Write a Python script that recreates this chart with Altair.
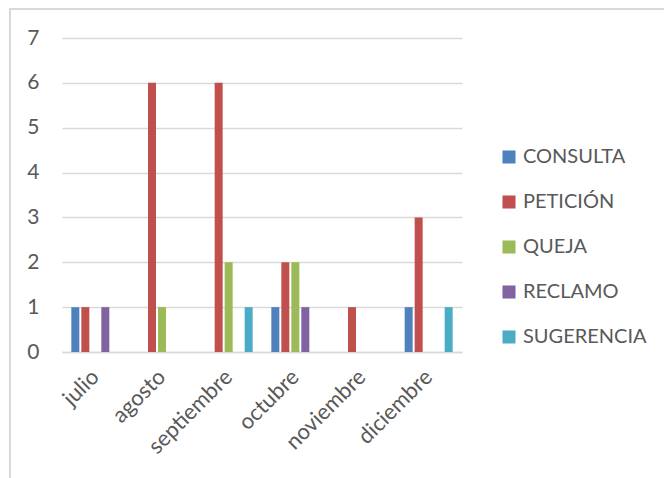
import altair as alt
import pandas as pd

meses = ["julio", "agosto", "septiembre", "octubre", "noviembre", "diciembre"]
tipos = ["CONSULTA", "PETICIÓN", "QUEJA", "RECLAMO", "SUGERENCIA"]
colores = ["#4F81BD", "#C0504D", "#9BBB59", "#8064A2", "#4BACC6"]

consulta = [1, 0, 0, 1, 0, 1]
peticion = [1, 6, 6, 2, 1, 3]
queja = [0, 1, 2, 2, 0, 0]
reclamo = [1, 0, 0, 1, 0, 0]
sugerencia = [0, 0, 1, 0, 0, 1]

series = [consulta, peticion, queja, reclamo, sugerencia]
rows = []
for tipo, valores in zip(tipos, series):
    for mes, v in zip(meses, valores):
        rows.append({"mes": mes, "tipo": tipo, "cantidad": v})
df = pd.DataFrame(rows)

FONT = "Lato"
GRAY = "#595959"
GRID = "#D9D9D9"

bars = alt.Chart(df).mark_bar().encode(
    x=alt.X("mes:N", sort=meses, title=None,
            scale=alt.Scale(paddingInner=0.25, paddingOuter=0.125),
            axis=alt.Axis(labelAngle=-45, labelAlign="right", labelBaseline="middle",
                          labelFontSize=22, labelColor=GRAY, labelFont=FONT,
                          labelPadding=21, ticks=False, domainColor=GRID,
                          domainWidth=1.5, grid=False)),
    xOffset=alt.XOffset("tipo:N", sort=tipos,
                        scale=alt.Scale(paddingInner=0.2, paddingOuter=0.1)),
    y=alt.Y("cantidad:Q", title=None,
            scale=alt.Scale(domain=[0, 7], nice=False),
            axis=alt.Axis(values=list(range(8)), tickCount=8, ticks=False, domain=False,
                          labelFontSize=21, labelColor=GRAY, labelFont=FONT,
                          labelPadding=23, gridColor=GRID, gridWidth=1.5)),
    color=alt.Color("tipo:N", sort=tipos, title=None,
                    scale=alt.Scale(domain=tipos, range=colores),
                    legend=alt.Legend(orient="none", legendX=437, legendY=109,
                                      symbolType="square", symbolSize=170,
                                      symbolStrokeWidth=0, labelFontSize=20,
                                      labelFont=FONT, labelColor=GRAY,
                                      rowPadding=25, labelOffset=4)),
)

# outer frame of the chart area
frame = alt.Chart(pd.DataFrame({"k": [0]})).mark_rect(
    fill=None, stroke=GRID, strokeWidth=2
).encode(
    x=alt.value(-52), x2=alt.value(620), y=alt.value(-29), y2=alt.value(450)
)

chart = alt.layer(frame, bars).properties(
    width=400, height=314,
    background="white",
    autosize=alt.AutoSizeParams(type="none"),
    padding={"left": 62, "top": 38, "right": 202, "bottom": 126},
).configure_view(stroke=None)

chart.save("out.html", embed_options={"renderer": "svg", "actions": False})
